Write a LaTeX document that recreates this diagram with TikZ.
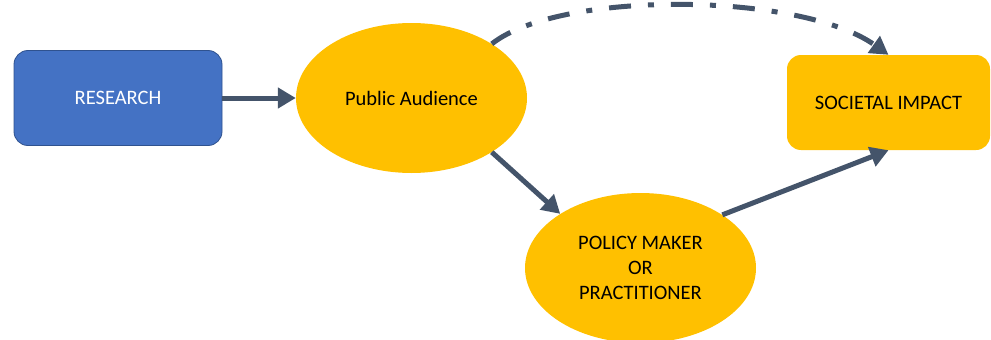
\documentclass[tikz,border=0pt]{standalone}
\usepackage{fontspec}
\setmainfont{Carlito}
\usetikzlibrary{shapes.geometric,arrows.meta}
\definecolor{resblue}{HTML}{4472C4}
\definecolor{resedge}{HTML}{2F528F}
\definecolor{gold}{HTML}{FFC000}
\definecolor{slate}{HTML}{44546A}

\begin{document}
\begin{tikzpicture}[x=1pt,y=-1pt,
  font=\fontsize{20.5}{25}\selectfont,
  box/.style={rectangle, rounded corners=14pt, minimum width=#1, minimum height=95pt, inner sep=0pt},
  blob/.style={ellipse, fill=gold, minimum width=231pt, minimum height=150pt, inner sep=0pt, align=center},
  flow/.style={draw=slate, line width=5pt, -{Triangle[length=18pt,width=20pt]}}]
\useasboundingbox (0,0) rectangle (991,340);
\node[box=208pt, fill=resblue, draw=resedge, line width=0.8pt, text=white] (1) at (118,98) {RESEARCH};
\node[blob] (2) at (411.5,98) {Public Audience};
\node[blob] (3) at (640.5,268) {POLICY MAKER\\OR\\PRACTITIONER};
\node[box=203pt, fill=gold] (4) at (888.5,102.5) {SOCIETAL IMPACT};
\path (1) edge[flow] (2);
\path (2.-34) edge[flow] (3.146);
\path (3.33) edge[flow] (4.south);
% dash-dot arc over the top
\draw[flow, dash pattern=on 22pt off 17pt on 6pt off 17pt]
  (2.34) .. controls (560,-10) and (800,-8) .. (4.north);
\end{tikzpicture}
\end{document}
